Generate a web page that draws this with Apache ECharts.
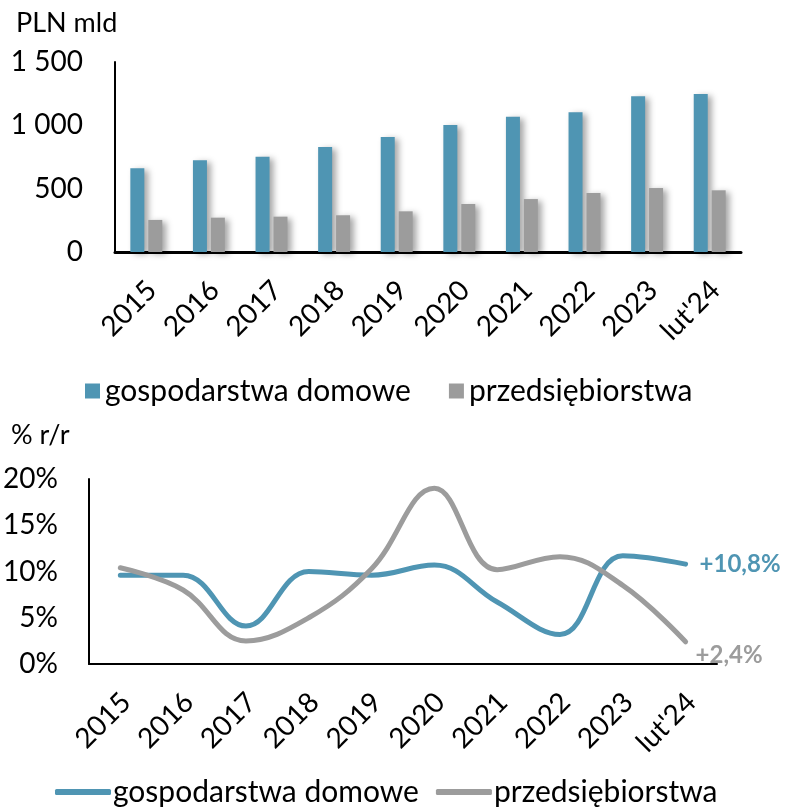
<!DOCTYPE html>
<html>
<head>
<meta charset="utf-8">
<script src="https://cdn.jsdelivr.net/npm/echarts@6/dist/echarts.min.js"></script>
<style>
  html, body { margin: 0; padding: 0; background: #fff; }
  #chart { width: 785px; height: 809px; }
</style>
</head>
<body>
<div id="chart"></div>
<script>
// Categories shared by both panels
const categories = ['2015', '2016', '2017', '2018', '2019', '2020', '2021', '2022', '2023', "lut'24"];

// Deposits stock, PLN bn
const householdsStock = [661, 724, 752, 829, 908, 1003, 1068, 1103, 1229, 1247];
const companiesStock  = [253, 271, 279, 290, 321, 379, 418, 466, 505, 487];

// Year-on-year growth, %
const householdsGrowth = [9.6, 9.6, 4.1, 10.0, 9.6, 10.7, 6.7, 3.2, 11.7, 10.8];
const companiesGrowth  = [10.4, 8.0, 2.5, 5.0, 10.3, 19.0, 10.2, 11.6, 8.5, 2.4];

const seriesNames = ['gospodarstwa domowe', 'przedsiębiorstwa'];
const stockTicks = [0, 500, 1000, 1500];
const growthTicks = [0, 5, 10, 15, 20];

const BLUE = '#4F95B3';
const GREY = '#9C9C9C';
const FONT = 'Lato, "Noto Sans", sans-serif';

const fmtThousands = v => String(v).replace(/\B(?=(\d{3})+(?!\d))/g, ' ');
const fmtGrowth = v => '+' + String(v).replace('.', ',') + '%';

const chart = echarts.init(document.getElementById('chart'), null, { renderer: 'canvas' });

const barShadow = {
  shadowColor: 'rgba(0,0,0,0.35)',
  shadowBlur: 6,
  shadowOffsetX: 4,
  shadowOffsetY: 2
};

const xLabel = {
  interval: 0,
  rotate: 45,
  margin: 28,
  align: 'right',
  verticalAlign: 'top',
  lineHeight: 16,
  fontSize: 28,
  fontFamily: FONT,
  color: '#000'
};

chart.setOption({
  animation: false,
  backgroundColor: '#fff',
  title: [
    { text: 'PLN mld', left: 11, top: 5, textStyle: { fontFamily: FONT, fontWeight: 'normal', fontSize: 27, color: '#000' } },
    { text: '% r/r', left: 6, top: 417, textStyle: { fontFamily: FONT, fontWeight: 'normal', fontSize: 27, color: '#000' } }
  ],
  legend: [
    {
      data: seriesNames.map(n => ({ name: n, icon: 'rect' })),
      left: 80, top: 371,
      itemWidth: 15, itemHeight: 15, itemGap: 38,
      textStyle: { fontFamily: FONT, fontSize: 30, color: '#000' },
      itemStyle: { shadowBlur: 0, shadowOffsetX: 0, shadowOffsetY: 0 },
      selectedMode: false
    },
    {
      data: seriesNames.map(n => ({ name: n, icon: 'roundRect' })),
      left: 50, top: 772,
      itemWidth: 56, itemHeight: 6, itemGap: 17,
      textStyle: { fontFamily: FONT, fontSize: 30, color: '#000', padding: [0, 0, 0, -3] },
      itemStyle: { shadowBlur: 0, shadowOffsetX: 0, shadowOffsetY: 0 },
      selectedMode: false
    }
  ],
  grid: [
    { left: 115, right: 44, top: 62, height: 190 },
    { left: 88, right: 68, top: 479, height: 185 }
  ],
  xAxis: [
    {
      gridIndex: 0, type: 'category', data: categories,
      axisLine: { lineStyle: { color: '#000', width: 3 } },
      axisTick: { show: false },
      axisLabel: xLabel
    },
    {
      gridIndex: 1, type: 'category', data: categories,
      axisLine: { lineStyle: { color: '#000', width: 2 } },
      axisTick: { show: false },
      axisLabel: xLabel
    }
  ],
  yAxis: [
    {
      gridIndex: 0, type: 'value',
      min: stockTicks[0], max: stockTicks[stockTicks.length - 1], interval: stockTicks[1] - stockTicks[0],
      axisLine: { show: true, lineStyle: { color: '#000', width: 2 } },
      axisTick: { show: false },
      splitLine: { show: false },
      axisLabel: { margin: 32, fontSize: 28, fontFamily: FONT, color: '#000', formatter: fmtThousands }
    },
    {
      gridIndex: 1, type: 'value',
      min: growthTicks[0], max: growthTicks[growthTicks.length - 1], interval: growthTicks[1] - growthTicks[0],
      axisLine: { show: true, lineStyle: { color: '#000', width: 2 } },
      axisTick: { show: false },
      splitLine: { show: false },
      axisLabel: { margin: 31, fontSize: 28, fontFamily: FONT, color: '#000', formatter: '{value}%' }
    }
  ],
  series: [
    {
      name: seriesNames[0], type: 'bar', xAxisIndex: 0, yAxisIndex: 0,
      data: householdsStock, barWidth: 14, barGap: '28%',
      itemStyle: Object.assign({ color: BLUE }, barShadow)
    },
    {
      name: seriesNames[1], type: 'bar', xAxisIndex: 0, yAxisIndex: 0,
      data: companiesStock, barWidth: 14, barGap: '28%',
      itemStyle: Object.assign({ color: GREY }, barShadow)
    },
    {
      name: seriesNames[0], type: 'line', xAxisIndex: 1, yAxisIndex: 1,
      data: householdsGrowth,
      smooth: 0.4, symbol: 'none',
      lineStyle: { color: BLUE, width: 5, cap: 'round' },
      itemStyle: { color: BLUE },
      endLabel: {
        show: true, distance: 14,
        formatter: p => fmtGrowth(p.value),
        fontFamily: FONT, fontWeight: 'bold', fontSize: 24, color: BLUE
      }
    },
    {
      name: seriesNames[1], type: 'line', xAxisIndex: 1, yAxisIndex: 1,
      data: companiesGrowth,
      smooth: 0.4, symbol: 'none',
      lineStyle: { color: GREY, width: 5, cap: 'round' },
      itemStyle: { color: GREY },
      endLabel: {
        show: true, distance: 10, offset: [0, 13],
        formatter: p => fmtGrowth(p.value),
        fontFamily: FONT, fontWeight: 'bold', fontSize: 24, color: GREY
      }
    }
  ]
});
</script>
</body>
</html>
